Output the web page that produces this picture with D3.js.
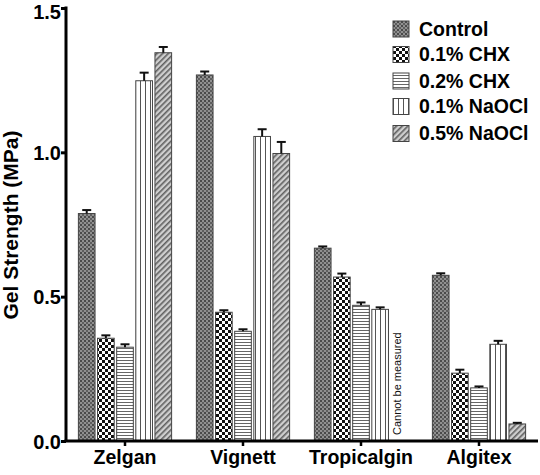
<!DOCTYPE html>
<html><head><meta charset="utf-8">
<script src="https://cdn.jsdelivr.net/npm/d3@7"></script>
<style>body{margin:0;background:#fff}svg{display:block}text{font-family:Arial,"Liberation Sans",sans-serif;font-weight:bold}</style>
</head><body><svg id="c" width="540" height="475"></svg>
<script>
const categories = ["Zelgan","Vignett","Tropicalgin","Algitex"];
const seriesNames = ["Control","0.1% CHX","0.2% CHX","0.1% NaOCl","0.5% NaOCl"];
const control  = [0.788, 1.268, 0.668, 0.574];
const chx01    = [0.356, 0.446, 0.568, 0.235];
const chx02    = [0.325, 0.38, 0.47, 0.184];
const naocl01  = [1.248, 1.055, 0.456, 0.335];
const naocl05  = [1.345, 0.996, null, 0.059];
const errControl = [0.012, 0.012, 0.006, 0.007];
const errChx01   = [0.01, 0.007, 0.012, 0.012];
const errChx02   = [0.01, 0.007, 0.01, 0.005];
const errNaocl01 = [0.028, 0.025, 0.007, 0.012];
const errNaocl05 = [0.02, 0.04, null, 0.004];
const yTicks = [0.0, 0.5, 1.0, 1.5];

const values = [control, chx01, chx02, naocl01, naocl05];
const errs = [errControl, errChx01, errChx02, errNaocl01, errNaocl05];

const svg = d3.select("#c");
const defs = svg.append("defs");
function pat(id, w, h, draw){ const p=defs.append("pattern").attr("id",id).attr("patternUnits","userSpaceOnUse").attr("width",w).attr("height",h); draw(p); }
pat("p0",4,4,p=>{p.append("rect").attr("width",4).attr("height",4).attr("fill","#909090");
  p.append("rect").attr("width",2).attr("height",2).attr("fill","#4a4a4a");
  p.append("rect").attr("x",2).attr("y",2).attr("width",2).attr("height",2).attr("fill","#5e5e5e");});
pat("p1",6,6,p=>{p.append("rect").attr("width",6).attr("height",6).attr("fill","#fff");
  p.append("rect").attr("width",3).attr("height",3).attr("fill","#111");
  p.append("rect").attr("x",3).attr("y",3).attr("width",3).attr("height",3).attr("fill","#111");});
pat("p2",4,3,p=>{p.append("rect").attr("width",4).attr("height",3).attr("fill","#fff");
  p.append("rect").attr("y",0).attr("width",4).attr("height",1).attr("fill","#666");});
pat("p3",5,4,p=>{p.append("rect").attr("width",5).attr("height",4).attr("fill","#fff");
  p.append("rect").attr("x",0).attr("width",1).attr("height",4).attr("fill","#555");});
pat("p4",4,4,p=>{p.attr("patternTransform","rotate(45)");
  p.append("rect").attr("width",4).attr("height",4).attr("fill","#cfcfcf");
  p.append("rect").attr("width",1.6).attr("height",4).attr("fill","#606060");});

const mLeft=66, mRight=538, mTop=8, mBottom=441;
const x = d3.scaleBand().domain(categories).range([mLeft,mRight]).paddingInner(0.21).paddingOuter(0.105);
const xs = d3.scaleBand().domain(seriesNames).range([0,x.bandwidth()]).paddingInner(0.13);
const y = d3.scaleLinear().domain([0,1.5]).range([mBottom,mTop]);

seriesNames.forEach((s,si)=>{
  const g = svg.append("g");
  categories.forEach((c,ci)=>{
    const v = values[si][ci]; if(v==null) return;
    const bx = x(c)+xs(s), bw = xs.bandwidth();
    g.append("rect").attr("x",bx).attr("y",y(v)).attr("width",bw).attr("height",y(0)-y(v))
      .attr("fill",`url(#p${si})`).attr("stroke","#444").attr("stroke-width",1);
    const e = errs[si][ci];
    const cx = bx+bw/2;
    g.append("line").attr("x1",cx).attr("x2",cx).attr("y1",y(v)).attr("y2",y(v+e)).attr("stroke","#111").attr("stroke-width",2);
    g.append("line").attr("x1",cx-4.5).attr("x2",cx+4.5).attr("y1",y(v+e)).attr("y2",y(v+e)).attr("stroke","#111").attr("stroke-width",2);
  });
});

{
  const c="Tropicalgin", s="0.5% NaOCl";
  const cx = x(c)+xs(s)+xs.bandwidth()/2;
  svg.append("text").attr("transform",`translate(${cx+2},${mBottom-6}) rotate(-90)`)
    .attr("font-size",11).style("font-weight","normal").attr("fill","#111").text("Cannot be measured");
}

const yAxis = svg.append("g").attr("transform",`translate(${mLeft},0)`)
  .call(d3.axisLeft(y).tickValues(yTicks).tickFormat(d3.format(".1f")).tickSize(5).tickSizeOuter(0));
yAxis.select(".domain").attr("stroke","#000").attr("stroke-width",3).attr("d",`M0,${mBottom}V${mTop-1.5}`);
yAxis.selectAll(".tick line").attr("stroke","#000").attr("stroke-width",3);
yAxis.selectAll(".tick text").attr("font-size",20).attr("fill","#000").attr("x",-5)
  .attr("dy",d=>d===1.5?"0.5em":"0.35em");

const xAxis = svg.append("g").attr("transform",`translate(0,${mBottom})`)
  .call(d3.axisBottom(x).tickSize(5).tickSizeOuter(0));
xAxis.select(".domain").attr("stroke","#000").attr("stroke-width",3).attr("d",`M${mLeft-1.5},0H${mRight}`);
xAxis.selectAll(".tick line").attr("stroke","#000").attr("stroke-width",2.5);
xAxis.selectAll(".tick text").attr("font-size",19.5).attr("fill","#000").attr("y",9);

svg.append("text").attr("transform",`translate(18,225) rotate(-90)`).attr("text-anchor","middle")
  .attr("font-size",21).attr("fill","#000").text("Gel Strength (MPa)");

const lg = svg.append("g").attr("transform","translate(393,21)");
seriesNames.forEach((s,i)=>{
  const yy = [0,25.5,52,77.5,104.5][i];
  lg.append("rect").attr("x",0).attr("y",yy).attr("width",16).attr("height",16).attr("fill",`url(#p${i})`).attr("stroke","#444");
  lg.append("text").attr("x",26).attr("y",yy+8).attr("dy","0.35em").attr("font-size",19.5).attr("fill","#000").text(s);
});
</script></body></html>
